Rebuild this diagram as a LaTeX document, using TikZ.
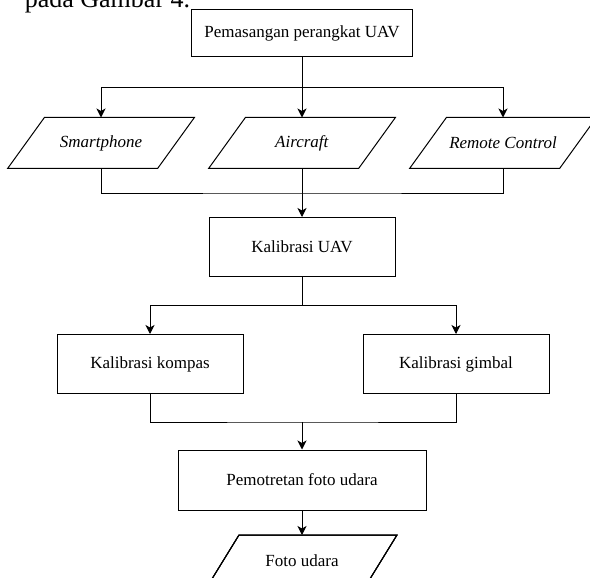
\documentclass[tikz,border=0pt]{standalone}
\usepackage{fontspec}
\setmainfont{Liberation Serif}
\usetikzlibrary{arrows.meta}
\newcommand{\jajargenjang}[2]{\draw ([xshift=-#2]#1.south west) -- ([xshift=-#2]#1.south east) -- ([xshift=#2]#1.north east) -- ([xshift=#2]#1.north west) -- cycle;}

\begin{document}
    \begin{tikzpicture}[x=1pt, y=-1pt, line width=1pt,
        >={Stealth[length=9pt,width=9pt,inset=2.5pt]},
        every node/.style={font=\fontsize{17}{20}\selectfont},
        proses/.style={draw, rectangle, inner sep=0pt, minimum width=186pt, minimum height=59pt},
        data/.style={rectangle, inner sep=0pt, minimum width=149pt, minimum height=50pt}]
        \path[use as bounding box, clip] (0,0) rectangle (590,578);
        \node[anchor=base west, font=\fontsize{26}{30}\selectfont] (hal) at (21,7.5) {pada Gambar 4.};
        \node[proses, minimum width=221pt, minimum height=47pt] (Pas) at (302,33) {Pemasangan perangkat UAV};
        \node[data] (Sp) at (101,143) {\textit{Smartphone}};
        \node[data] (Ac) at (302,143) {\textit{Aircraft}};
        \node[data] (Rc) at (503,143) {\textit{Remote Control}};
        \node[proses] (Kal) at (302,247) {Kalibrasi UAV};
        \node[proses] (Kom) at (150,364) {Kalibrasi kompas};
        \node[proses] (Gim) at (456,364) {Kalibrasi gimbal};
        \node[proses, minimum width=248pt, minimum height=60pt] (Pot) at (302,480) {Pemotretan foto udara};
        \node[data, minimum width=157pt, minimum height=51pt] (Foto) at (302,561) {Foto udara};
        \foreach \n in {Sp,Ac,Rc}
            \jajargenjang{\n}{18.4pt}
        \jajargenjang{Foto}{16pt}
        \coordinate (cabang1) at (302,88);
        \coordinate (gabung1) at (302,193);
        \coordinate (cabang2) at (302,305);
        \coordinate (gabung2) at (302,422);
        \draw[->] (Pas.south) -- (Ac.north);
        \draw[->] (cabang1) -| (Sp.north);
        \draw[->] (cabang1) -| (Rc.north);
        \draw (Sp.south) |- (gabung1) -| (Rc.south);
        \draw[->] (Ac.south) -- (Kal.north);
        \draw (Kal.south) -- (cabang2);
        \draw[->] (cabang2) -| (Kom.north);
        \draw[->] (cabang2) -| (Gim.north);
        \draw (Kom.south) |- (gabung2) -| (Gim.south);
        \draw[->] (gabung2) -- (Pot.north);
        \draw[->] (Pot.south) -- (Foto.north);
    \end{tikzpicture}
\end{document}
